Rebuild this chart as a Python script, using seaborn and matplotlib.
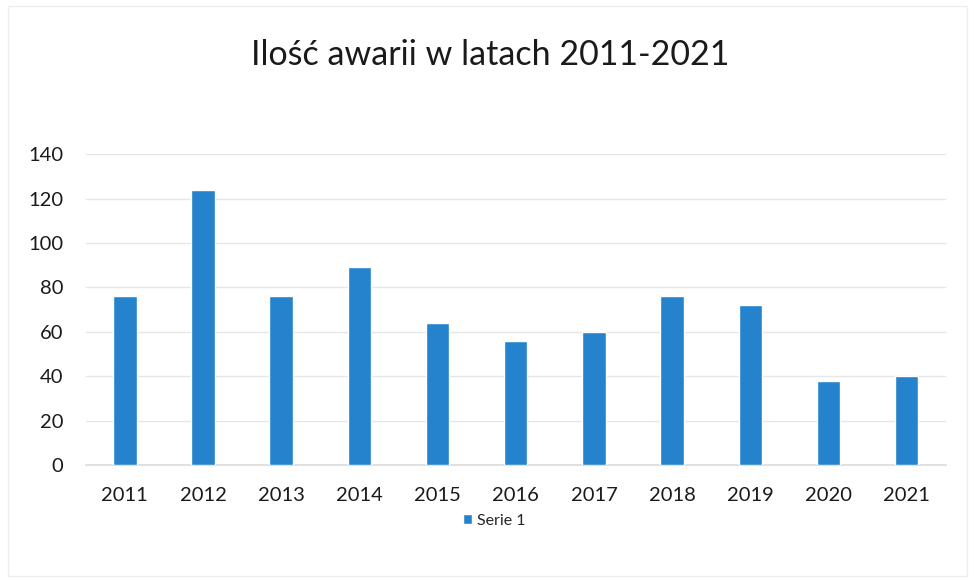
import matplotlib
matplotlib.use("Agg")
import matplotlib.pyplot as plt
import seaborn as sns
import pandas as pd
from matplotlib.patches import Rectangle

years = ["2011", "2012", "2013", "2014", "2015", "2016", "2017", "2018", "2019", "2020", "2021"]
values = [76, 124, 76, 89, 64, 56, 60, 76, 72, 38, 40]
series_name = "Serie 1"
title = "Ilość awarii w latach 2011-2021"
yticks = [0, 20, 40, 60, 80, 100, 120, 140]

sns.set_theme(style="white")
plt.rcParams["font.family"] = ["Lato", "DejaVu Sans"]

df = pd.DataFrame({"Rok": years, "Ilość": values, "Seria": series_name})

fig = plt.figure(figsize=(9.74, 5.82), dpi=100)
ax = fig.add_axes([0.088, 0.201, 0.883, 0.534])

sns.barplot(data=df, x="Rok", y="Ilość", hue="Seria", palette=["#2483CC"],
            width=0.3, ax=ax, saturation=1, zorder=3)

ax.set_ylim(0, 140)
ax.set_yticks(yticks)
ax.set_xlim(-0.5, len(years) - 0.5)
ax.grid(axis="y", color="#E6E6E6", linewidth=1, zorder=0)
ax.set_axisbelow(True)
for s in ["top", "right", "left"]:
    ax.spines[s].set_visible(False)
ax.spines["bottom"].set_color("#DDDDDD")
ax.tick_params(axis="both", length=0, labelsize=14.5, colors="#1A1A1A")
ax.tick_params(axis="x", pad=16)
ax.tick_params(axis="y", pad=16)
ax.set_xlabel("")
ax.set_ylabel("")

fig.text(0.503, 0.905, title, ha="center", va="center", fontsize=24.5, color="#1A1A1A")

leg = ax.legend(loc="center", bbox_to_anchor=(0.475, -0.18), frameon=False,
                fontsize=11.5, handlelength=0.6, handleheight=0.6, handletextpad=0.3)

fig.patches.append(Rectangle((0.008, 0.01), 0.985, 0.98, transform=fig.transFigure,
                             fill=False, edgecolor="#EEEEEE", linewidth=1))

fig.savefig("out.png", dpi=100)
